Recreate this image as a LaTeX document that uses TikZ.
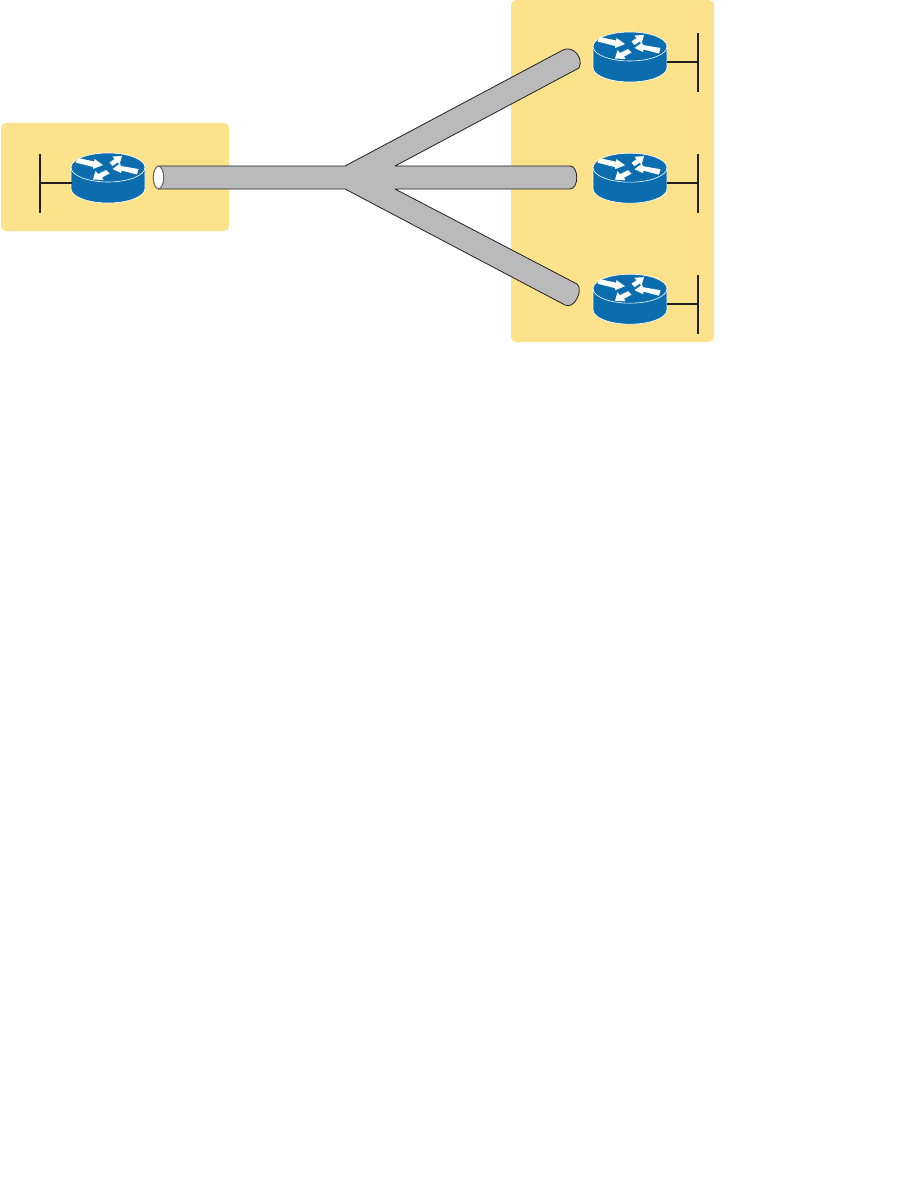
\documentclass[tikz,border=0pt]{standalone}
\definecolor{sitefill}{HTML}{FDE28C}
\definecolor{routerblue}{HTML}{0B6DAE}
\definecolor{pipegray}{HTML}{BABABA}
\definecolor{linedark}{HTML}{231F20}
\tikzset{
  site/.style={fill=sitefill, rounded corners=5pt},
  bus/.style={draw=linedark, line width=1.7pt},
  port/.style={inner sep=0pt, minimum size=0pt},
  pipe/.style={draw=linedark, line width=0.8pt, fill=pipegray, line join=round},
  pics/router/.style={code={
    % body
    \draw[fill=routerblue, draw=white, line width=0.6pt] (-37,0) -- (-37,21)
      arc[start angle=180, end angle=360, x radius=37pt, y radius=14.5pt] -- (37,0)
      arc[start angle=0, end angle=180, x radius=37pt, y radius=14.5pt] -- cycle;
    \draw[draw=white, line width=0.6pt] (-37,0)
      arc[start angle=180, end angle=360, x radius=37pt, y radius=14.5pt];
    % arrows on top
    \fill[white] (-32.5,-5) -- (-30,-9.5) -- (-14,-6) -- (-13.5,-8.5) -- (-5,-2.5) -- (-15,1.5) -- (-15,-0.5) -- cycle;
    \fill[white] (1.5,-5) -- (4.5,-1.5) -- (9.5,-5) -- (11.5,-3) -- (14,-11.5) -- (4.5,-11) -- (6.5,-8.5) -- cycle;
    \fill[white] (30.5,1.5) -- (29,7) -- (13.5,3) -- (13,5.5) -- (4.5,1.5) -- (12,-4) -- (13,-1.5) -- cycle;
    \fill[white] (-2,2.5) -- (1.5,6) -- (-6,10) -- (-4.5,12.5) -- (-15,12) -- (-12.5,3.5) -- (-10,6.5) -- cycle;
  }},
}
\begin{document}
\begin{tikzpicture}[x=1pt, y=-1pt]
\useasboundingbox (0,0) rectangle (897,1177);
% sites
\fill[site] (1,123) rectangle (229,231);
\fill[site] (511,0) rectangle (714,342);
% pipe
\draw[pipe] (158.5,166) -- (345,166) -- (563,50) .. controls (573,45) and (584,58) .. (579,68)
  -- (395,166) -- (570,166) .. controls (579,166) and (579,189) .. (570,189)
  -- (395,189) -- (577,284) .. controls (584,290) and (574,310) .. (565,305)
  -- (345,189) -- (158.5,189) -- cycle;
\draw[draw=gray!80!black, line width=1.1pt, fill=white] (158.5,177.5) ellipse[x radius=5.2pt, y radius=11.3pt];
% left router
\pic at (108,167.5) {router};
\node[port] (la) at (72,183) {};
\node[port] (lb) at (40,183) {};
\node[port] (lbt) at (40,154) {};
\node[port] (lbb) at (40,213) {};
\draw[bus] (la) -- (lb);
\draw[bus] (lbt) -- (lbb);
% top router
\pic at (630,46.5) {router};
\node[port] (ua) at (667,62) {};
\node[port] (ub) at (698,62) {};
\node[port] (ubt) at (698,33) {};
\node[port] (ubb) at (698,92) {};
\draw[bus] (ua) -- (ub);
\draw[bus] (ubt) -- (ubb);
% middle router
\pic at (630,167.7) {router};
\node[port] (ma) at (667,183) {};
\node[port] (mb) at (698,183) {};
\node[port] (mbt) at (698,154) {};
\node[port] (mbb) at (698,213) {};
\draw[bus] (ma) -- (mb);
\draw[bus] (mbt) -- (mbb);
% bottom router
\pic at (630,288.7) {router};
\node[port] (da) at (667,304) {};
\node[port] (db) at (698,304) {};
\node[port] (dbt) at (698,275) {};
\node[port] (dbb) at (698,334) {};
\draw[bus] (da) -- (db);
\draw[bus] (dbt) -- (dbb);
\end{tikzpicture}
\end{document}
